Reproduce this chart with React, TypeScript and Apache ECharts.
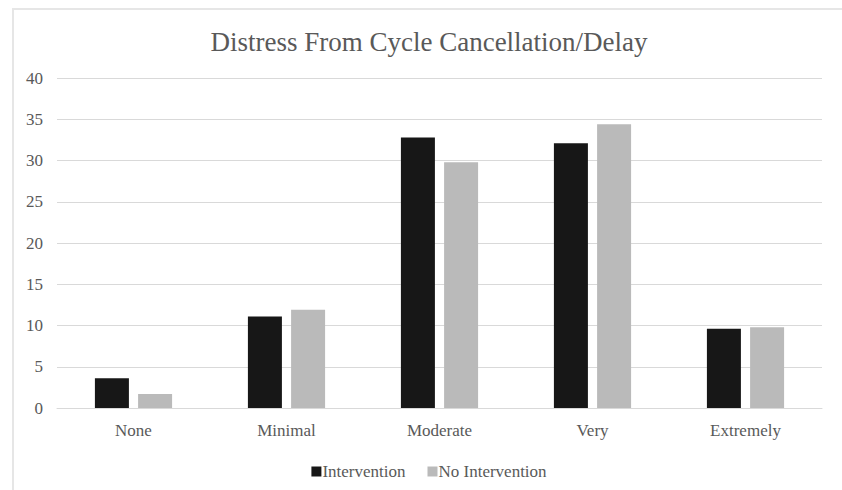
import React, { useEffect, useRef } from "react";
import * as echarts from "echarts";

const categories = ["None", "Minimal", "Moderate", "Very", "Extremely"];
const intervention = [3.6, 11.1, 32.8, 32.1, 9.6];
const noIntervention = [1.7, 11.9, 29.8, 34.4, 9.8];
const seriesNames = ["Intervention", "No Intervention"];
const titleText = "Distress From Cycle Cancellation/Delay";

const FONT = "'Liberation Serif', 'Times New Roman', serif";
const TEXT = "#595959";

export default function App() {
  const ref = useRef<HTMLDivElement>(null);
  useEffect(() => {
    if (!ref.current) return;
    const chart = echarts.init(ref.current, undefined, { renderer: "svg" });
    chart.setOption({
      animation: false,
      backgroundColor: "#ffffff",
      title: {
        text: titleText,
        left: "center",
        top: 13,
        textStyle: { fontFamily: FONT, fontSize: 27, fontWeight: "normal", color: TEXT },
      },
      grid: { left: 43, right: 22, top: 68, bottom: 88, containLabel: false },
      legend: {
        data: seriesNames,
        top: 448,
        left: "center",
        itemWidth: 10,
        itemHeight: 10,
        itemGap: 22,
        icon: "rect",
        textStyle: { fontFamily: FONT, fontSize: 17, color: TEXT, padding: [0, 0, 0, -4] },
      },
      xAxis: {
        type: "category",
        data: categories,
        axisLine: { lineStyle: { color: "#d9d9d9", width: 1 } },
        axisTick: { show: false },
        axisLabel: { fontFamily: FONT, fontSize: 17, color: TEXT, margin: 14 },
      },
      yAxis: {
        type: "value",
        min: 0,
        max: 40,
        interval: 5,
        axisLine: { show: false },
        axisTick: { show: false },
        splitLine: { lineStyle: { color: "#d9d9d9", width: 1 } },
        axisLabel: { fontFamily: FONT, fontSize: 17, color: TEXT, margin: 14 },
      },
      series: [
        {
          name: seriesNames[0],
          type: "bar",
          data: intervention,
          barWidth: 34,
          barGap: "27%",
          itemStyle: { color: "#171717" },
        },
        {
          name: seriesNames[1],
          type: "bar",
          data: noIntervention,
          barWidth: 34,
          itemStyle: { color: "#bababa" },
        },
      ],
    });
    return () => chart.dispose();
  }, []);
  return (
    <div
      style={{
        position: "absolute",
        left: 12,
        top: 8,
        width: 834,
        height: 490,
        border: "2px solid #e6e6e6",
        boxSizing: "border-box",
      }}
    >
      <div ref={ref} style={{ width: 830, height: 486 }} />
    </div>
  );
}
